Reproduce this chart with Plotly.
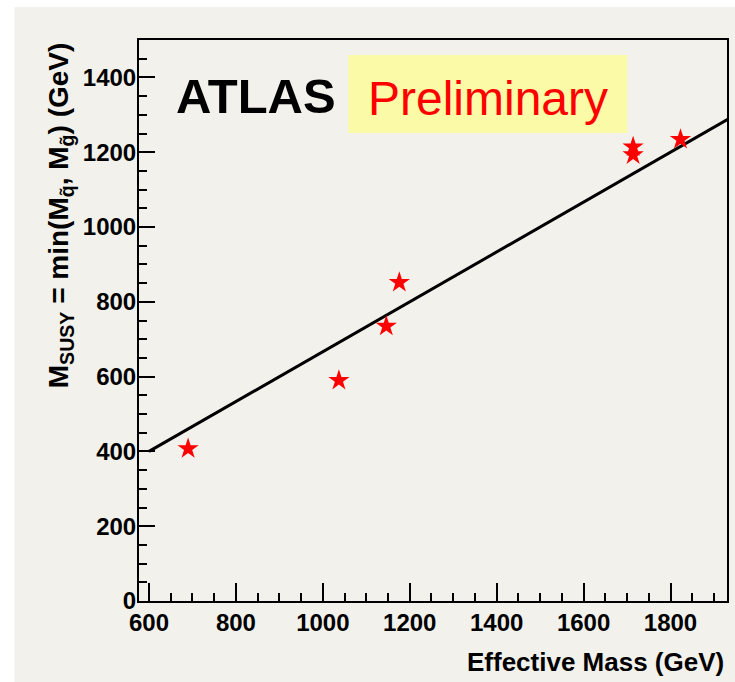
import plotly.graph_objects as go

# Data
meff = [690, 1037, 1146, 1176, 1714, 1714, 1823]
msusy = [407, 590, 735, 852, 1214, 1193, 1234]
line_x = [600, 2000]
line_y = [400, 1333.3]
x_ticks = [600, 800, 1000, 1200, 1400, 1600, 1800]
y_ticks = [0, 200, 400, 600, 800, 1000, 1200, 1400]

BG = "#f2f1eb"
FONT = "Liberation Sans, Arial, sans-serif"

fig = go.Figure()
fig.add_trace(go.Scatter(x=line_x, y=line_y, mode="lines",
                         line=dict(color="black", width=3), showlegend=False))
fig.add_trace(go.Scatter(x=meff, y=msusy, mode="markers",
                         marker=dict(symbol="star", size=16, color="red",
                                     line=dict(width=0)), showlegend=False))

W, H = 735, 682
L, R, T, B = 139, 6, 40, 81
pw, ph = W - L - R, H - T - B

def px(x):
    return (x - L) / pw

def py(y):
    return (H - B - y) / ph

shapes = [
    dict(type="rect", xref="paper", yref="paper", x0=px(-5), x1=px(W + 5), y0=py(7), y1=py(-5),
         fillcolor="white", line=dict(width=0), layer="below"),
    dict(type="rect", xref="paper", yref="paper", x0=px(-5), x1=px(14), y0=py(H + 5), y1=py(-5),
         fillcolor="white", line=dict(width=0), layer="below"),
    dict(type="rect", xref="paper", yref="paper", x0=px(349), x1=px(629), y0=py(133), y1=py(55),
         fillcolor="#fbfaa6", line=dict(width=0), layer="below"),
]

annotations = [
    dict(text="ATLAS", xref="paper", yref="paper", x=px(256), y=py(96), showarrow=False,
         xanchor="center", yanchor="middle",
         font=dict(family=FONT, size=49, color="black", weight="bold")),
    dict(text="Preliminary", xref="paper", yref="paper", x=px(489), y=py(98), showarrow=False,
         xanchor="center", yanchor="middle",
         font=dict(family=FONT, size=48, color="red")),
    dict(text="Effective Mass (GeV)", xref="paper", yref="paper", x=px(728), y=py(662),
         showarrow=False, xanchor="right", yanchor="middle",
         font=dict(family=FONT, size=26, color="black", weight="bold")),
    dict(text="M<sub>SUSY</sub> = min(M<sub>q̃</sub>, M<sub>g̃</sub>) (GeV)", xref="paper", yref="paper",
         x=px(60), y=py(40), showarrow=False, xanchor="center", yanchor="top", textangle=-90,
         font=dict(family=FONT, size=28, color="black", weight="bold")),
]

fig.update_layout(
    width=W, height=H,
    margin=dict(l=L, r=R, t=T, b=B, pad=0),
    paper_bgcolor=BG, plot_bgcolor=BG,
    shapes=shapes, annotations=annotations,
    xaxis=dict(range=[577, 1930], tickvals=x_ticks, ticks="inside", ticklen=18, tickwidth=1.5,
               tickcolor="black", showgrid=False, zeroline=False, showline=True, linewidth=2,
               linecolor="black", mirror=True, ticklabelstandoff=-1,
               minor=dict(dtick=50, tick0=0, ticks="inside", ticklen=8, tickwidth=1.5, tickcolor="black"),
               tickfont=dict(family=FONT, size=24, color="black", weight="bold")),
    yaxis=dict(range=[0, 1500], tickvals=y_ticks, ticks="inside", ticklen=16, tickwidth=1.5,
               tickcolor="black", showgrid=False, zeroline=False, showline=True, linewidth=2,
               linecolor="black", mirror=True, ticklabelstandoff=-4,
               minor=dict(dtick=50, tick0=0, ticks="inside", ticklen=8, tickwidth=1.5, tickcolor="black"),
               tickfont=dict(family=FONT, size=24, color="black", weight="bold")),
)

fig.write_html("out.html", config={"displayModeBar": False},
               post_script="document.body.style.margin='0';")
